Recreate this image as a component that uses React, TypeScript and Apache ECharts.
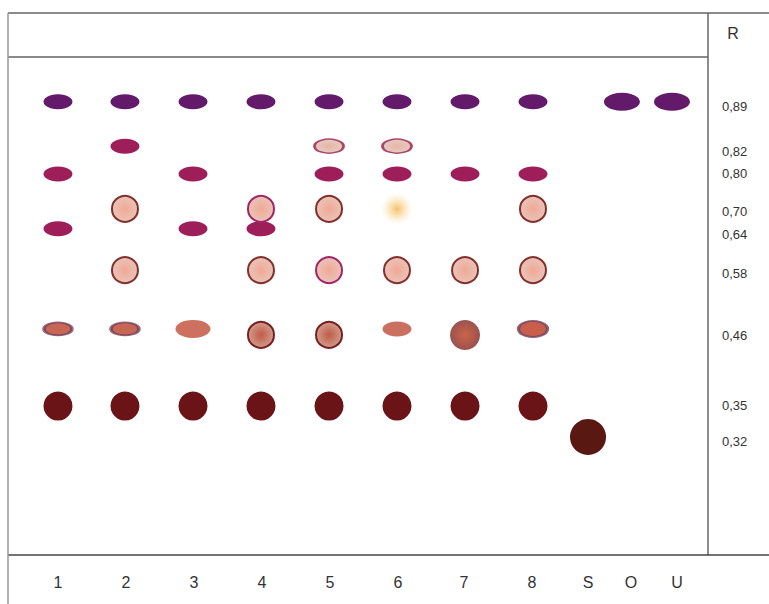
import React, { useEffect, useRef } from "react";
import * as echarts from "echarts";

// Lanes (plate x position, % of plate width) and their bottom labels
const lanes = ["1", "2", "3", "4", "5", "6", "7", "8", "S", "O", "U"];
const laneX = [7.14, 16.71, 26.43, 36.14, 45.86, 55.57, 65.29, 75.0, 82.86, 87.71, 94.86];
const laneLabelX = [7.14, 16.86, 26.57, 36.29, 46.0, 55.71, 65.14, 74.86, 82.86, 89.0, 95.57];

// Rf rows (drawn height on the plate, % of plate height) and their labels
const rfValues = ["0,89", "0,82", "0,80", "0,70", "0,64", "0,58", "0,46", "0,35", "0,32"];
const rowPos = [91.0, 82.1, 76.5, 69.5, 65.5, 57.2, 45.4, 29.9, 23.7];
const rowLabelPos = [90.0, 81.1, 76.7, 68.9, 64.3, 56.6, 44.0, 30.1, 22.7];

// Spots: [lane, Rf, spot kind]
const spots: [string, string, string][] = [
  ["1", "0,89", "purple"], ["1", "0,80", "magenta"], ["1", "0,64", "magenta"], ["1", "0,46", "redEllipse"], ["1", "0,35", "dark"],
  ["2", "0,89", "purple"], ["2", "0,82", "magenta"], ["2", "0,70", "circleBrown"], ["2", "0,58", "circleBrown"], ["2", "0,46", "redEllipse"], ["2", "0,35", "dark"],
  ["3", "0,89", "purple"], ["3", "0,80", "magenta"], ["3", "0,64", "magenta"], ["3", "0,46", "salmonBig"], ["3", "0,35", "dark"],
  ["4", "0,89", "purple"], ["4", "0,70", "circleMagenta"], ["4", "0,64", "magenta"], ["4", "0,58", "circleBrown"], ["4", "0,46", "speckled"], ["4", "0,35", "dark"],
  ["5", "0,89", "purple"], ["5", "0,82", "paleEllipse"], ["5", "0,80", "magenta"], ["5", "0,70", "circleBrown"], ["5", "0,58", "circleMagenta"], ["5", "0,46", "speckled"], ["5", "0,35", "dark"],
  ["6", "0,89", "purple"], ["6", "0,82", "paleEllipse"], ["6", "0,80", "magenta"], ["6", "0,70", "yellowBlob"], ["6", "0,58", "circleBrown"], ["6", "0,46", "salmonSmall"], ["6", "0,35", "dark"],
  ["7", "0,89", "purple"], ["7", "0,80", "magenta"], ["7", "0,58", "circleBrown"], ["7", "0,46", "blurred"], ["7", "0,35", "dark"],
  ["8", "0,89", "purple"], ["8", "0,80", "magenta"], ["8", "0,70", "circleBrown"], ["8", "0,58", "circleBrown"], ["8", "0,46", "redEllipseBorder"], ["8", "0,35", "dark"],
  ["S", "0,32", "darkBig"],
  ["O", "0,89", "purpleBig"],
  ["U", "0,89", "purpleBig"],
];

const radial = (c0: string, c1: string) => ({
  type: "radial", x: 0.5, y: 0.5, r: 0.5,
  colorStops: [{ offset: 0, color: c0 }, { offset: 1, color: c1 }],
});

const kinds: Record<string, any> = {
  purple: { size: [29, 15], itemStyle: { color: "#641a6a" } },
  purpleBig: { size: [36, 18], itemStyle: { color: "#641a6a" } },
  magenta: { size: [29, 15], itemStyle: { color: "#9e1e5a" } },
  paleEllipse: { size: [29, 14], itemStyle: { color: radial("#eab4a4", "#e2ccc4"), borderColor: "#ac4866", borderWidth: 2 } },
  circleBrown: { size: [26, 26], itemStyle: { color: radial("#f2a894", "#e8c4ba"), borderColor: "#84302a", borderWidth: 2 } },
  circleMagenta: { size: [26, 26], itemStyle: { color: radial("#f2a894", "#e8c4ba"), borderColor: "#a4246a", borderWidth: 2 } },
  yellowBlob: { size: [32, 32], itemStyle: { color: radial("#f6c068", "rgba(250,225,170,0)") } },
  redEllipse: { size: [28, 13], itemStyle: { color: "#c86656", borderColor: "rgba(100,50,80,0.7)", borderWidth: 2.5 } },
  salmonBig: { size: [35, 18], itemStyle: { color: "#cd7060" } },
  salmonSmall: { size: [29, 15], itemStyle: { color: "#ca7060" } },
  speckled: { size: [26, 26], offset: [0, 6], itemStyle: { color: radial("#c25a48", "#d09c8c"), borderColor: "#782020", borderWidth: 2 } },
  blurred: { size: [30, 30], offset: [0, 6], itemStyle: { color: radial("#cc6448", "#9a5250") } },
  redEllipseBorder: { size: [29, 16], itemStyle: { color: "#c85e4c", borderColor: "rgba(115,65,90,0.8)", borderWidth: 2.5 } },
  dark: { size: [29, 29], itemStyle: { color: "#6b1418" } },
  darkBig: { size: [36, 36], itemStyle: { color: "#5a1813" } },
};

const nearestLabel = (v: number, pos: number[], labels: string[]) => {
  let best = 0;
  for (let i = 1; i < pos.length; i++) if (Math.abs(pos[i] - v) < Math.abs(pos[best] - v)) best = i;
  return labels[best];
};

export default function App() {
  const ref = useRef<HTMLDivElement>(null);
  useEffect(() => {
    if (!ref.current) return;
    const chart = echarts.init(ref.current, null, { renderer: "svg" });
    const font = "'Liberation Sans', Arial, sans-serif";
    const series = Object.keys(kinds).map((k) => {
      const def = kinds[k];
      return {
        type: "scatter",
        name: k,
        symbol: "circle",
        symbolSize: def.size,
        symbolOffset: def.offset || [0, 0],
        itemStyle: { ...def.itemStyle, opacity: 1 },
        emphasis: { disabled: true },
        silent: true,
        data: spots
          .filter((s) => s[2] === k)
          .map((s) => [laneX[lanes.indexOf(s[0])], rowPos[rfValues.indexOf(s[1])]]),
      };
    });
    const line = (x1: number, y1: number, x2: number, y2: number, color: string, w: number) => ({
      type: "line",
      shape: { x1, y1, x2, y2 },
      style: { stroke: color, lineWidth: w },
      silent: true,
    });
    chart.setOption({
      animation: false,
      backgroundColor: "#ffffff",
      grid: { left: 8, right: 61, top: 57, bottom: 49 },
      xAxis: {
        type: "value",
        min: 0,
        max: 100,
        axisLine: { show: false },
        axisTick: { show: false },
        splitLine: { show: false },
        axisLabel: {
          customValues: laneLabelX,
          formatter: (v: number) => nearestLabel(v, laneLabelX, lanes),
          margin: 19,
          fontSize: 16,
          color: "#333",
          fontFamily: font,
        },
      },
      yAxis: {
        type: "value",
        position: "right",
        min: 0,
        max: 100,
        axisLine: { show: false },
        axisTick: { show: false },
        splitLine: { show: false },
        axisLabel: {
          customValues: rowLabelPos,
          formatter: (v: number) => nearestLabel(v, rowLabelPos, rfValues),
          margin: 14,
          fontSize: 13,
          color: "#333",
          fontFamily: font,
          align: "left",
        },
      },
      graphic: [
        line(8, 13, 769, 13, "#666", 1.5),
        line(8, 57, 708, 57, "#8a8a8a", 2),
        line(708, 13, 708, 555, "#666", 1.5),
        line(8, 555, 769, 555, "#444", 1.5),
        line(8, 13, 8, 604, "#999", 1.5),
        {
          type: "text",
          x: 733,
          y: 33,
          style: { text: "R", fill: "#333", font: `16px ${font}`, align: "center", verticalAlign: "middle" },
          silent: true,
        },
      ],
      series,
    });
    return () => chart.dispose();
  }, []);
  return <div ref={ref} style={{ position: "fixed", left: 0, top: 0, width: 769, height: 604 }} />;
}
